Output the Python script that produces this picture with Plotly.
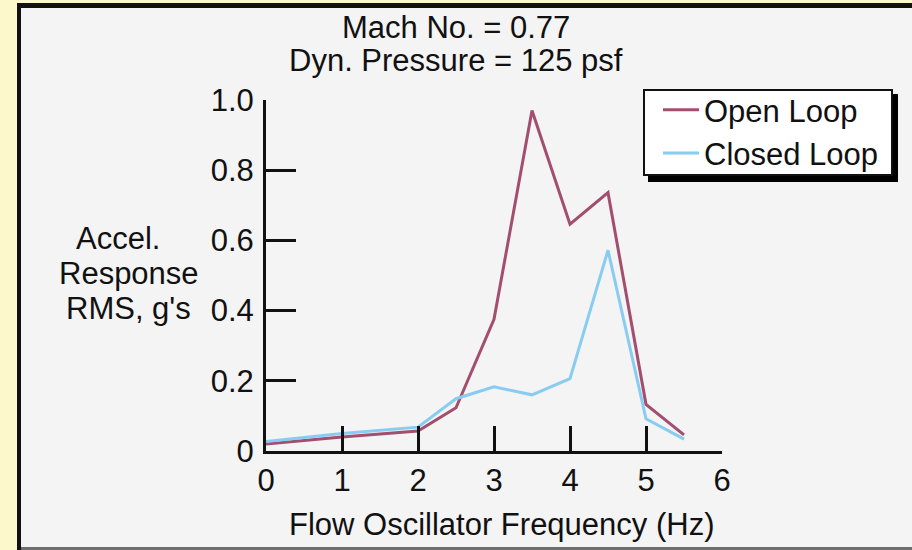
import plotly.graph_objects as go

# ---- data ----
freq = [0, 1, 2, 2.5, 3, 3.5, 4, 4.5, 5, 5.5]
open_loop = [0.02, 0.04, 0.057, 0.123, 0.375, 0.97, 0.646, 0.736, 0.133, 0.046]
closed_loop = [0.027, 0.05, 0.068, 0.149, 0.183, 0.16, 0.206, 0.572, 0.092, 0.034]
x_ticks = [0, 1, 2, 3, 4, 5, 6]
x_tick_labels = ["0", "1", "2", "3", "4", "5", "6"]
y_ticks = [0, 0.2, 0.4, 0.6, 0.8, 1.0]
y_tick_labels = ["0", "0.2", "0.4", "0.6", "0.8", "1.0"]
title_lines = ["Mach No. = 0.77", "Dyn. Pressure = 125 psf"]
y_title_lines = ["Accel.", "Response", "RMS, g's"]
x_title = "Flow Oscillator Frequency (Hz)"

W, H = 912, 550
L, R, T, B = 266, 190, 100, 99
PW, PH = W - L - R, H - T - B
FONT = "Liberation Sans, Arial, Helvetica, sans-serif"
FS = 31


def px(x):
    return (x - L) / PW


def py(y):
    return (H - B - y) / PH


fig = go.Figure()
fig.add_trace(go.Scatter(x=freq, y=open_loop, mode="lines", name="Open Loop",
                         line=dict(color="#A34E6E", width=3)))
fig.add_trace(go.Scatter(x=freq, y=closed_loop, mode="lines", name="Closed Loop",
                         line=dict(color="#88CCF1", width=3)))

shapes = [
    # yellow outer strips
    dict(type="rect", xref="paper", yref="paper", x0=px(0), x1=px(17), y0=py(550), y1=py(0),
         fillcolor="#FDF8CB", line_width=0, layer="below"),
    dict(type="rect", xref="paper", yref="paper", x0=px(0), x1=px(912), y0=py(3), y1=py(0),
         fillcolor="#FDF8CB", line_width=0, layer="below"),
    # black frame
    dict(type="rect", xref="paper", yref="paper", x0=px(17), x1=px(21), y0=py(550), y1=py(3),
         fillcolor="#111111", line_width=0, layer="below"),
    dict(type="rect", xref="paper", yref="paper", x0=px(17), x1=px(912), y0=py(8), y1=py(3),
         fillcolor="#111111", line_width=0, layer="below"),
    # bottom gray line
    dict(type="rect", xref="paper", yref="paper", x0=px(21), x1=px(912), y0=py(550), y1=py(547),
         fillcolor="#6E6E6E", line_width=0, layer="below"),
    # legend shadow and box
    dict(type="rect", xref="paper", yref="paper", x0=px(648), x1=px(898), y0=py(182), y1=py(94),
         fillcolor="#000000", line_width=0, layer="above"),
    dict(type="rect", xref="paper", yref="paper", x0=px(644), x1=px(892), y0=py(175), y1=py(90),
         fillcolor="#FFFFFF", line=dict(color="#111111", width=2), layer="above"),
]

annotations = [
    dict(text=title_lines[0], x=px(456), y=py(27), xref="paper", yref="paper",
         showarrow=False, xanchor="center", yanchor="middle", font=dict(size=FS, color="#111", family=FONT)),
    dict(text=title_lines[1], x=px(456), y=py(61), xref="paper", yref="paper",
         showarrow=False, xanchor="center", yanchor="middle", font=dict(size=FS, color="#111", family=FONT)),
    dict(text=x_title, x=px(501), y=py(524), xref="paper", yref="paper",
         showarrow=False, xanchor="center", yanchor="middle", font=dict(size=FS, color="#111", family=FONT)),
]
for txt, cx, cy in zip(y_title_lines, [118, 129, 128], [238, 273, 308]):
    annotations.append(dict(text=txt, x=px(cx), y=py(cy), xref="paper", yref="paper",
                            showarrow=False, xanchor="center", yanchor="middle",
                            font=dict(size=FS, color="#111", family=FONT)))

fig.update_layout(
    width=W, height=H,
    margin=dict(l=L, r=R, t=T, b=B),
    paper_bgcolor="#F4F4F4", plot_bgcolor="#F4F4F4",
    font=dict(family=FONT, size=FS, color="#111"),
    showlegend=True,
    legend=dict(x=px(658), y=py(83), xanchor="left", yanchor="top",
                bgcolor="rgba(0,0,0,0)", borderwidth=0,
                font=dict(size=FS, family=FONT, color="#111"),
                tracegroupgap=0, itemwidth=36),
    shapes=shapes,
    annotations=annotations,
    xaxis=dict(range=[0, 6], tickvals=x_ticks, ticktext=x_tick_labels,
               showgrid=False, zeroline=False, showline=True, linecolor="#111", linewidth=3,
               ticks="inside", ticklen=25, tickwidth=3, tickcolor="#111",
               ticklabelstandoff=0, fixedrange=True),
    yaxis=dict(range=[0, 1], tickvals=y_ticks, ticktext=y_tick_labels,
               showgrid=False, zeroline=False, showline=True, linecolor="#111", linewidth=3,
               ticks="inside", ticklen=30, tickwidth=3, tickcolor="#111",
               ticklabelstandoff=3, fixedrange=True),
)

fig.write_html("out.html", config={"displayModeBar": False},
               post_script="document.body.style.margin='0px';")
